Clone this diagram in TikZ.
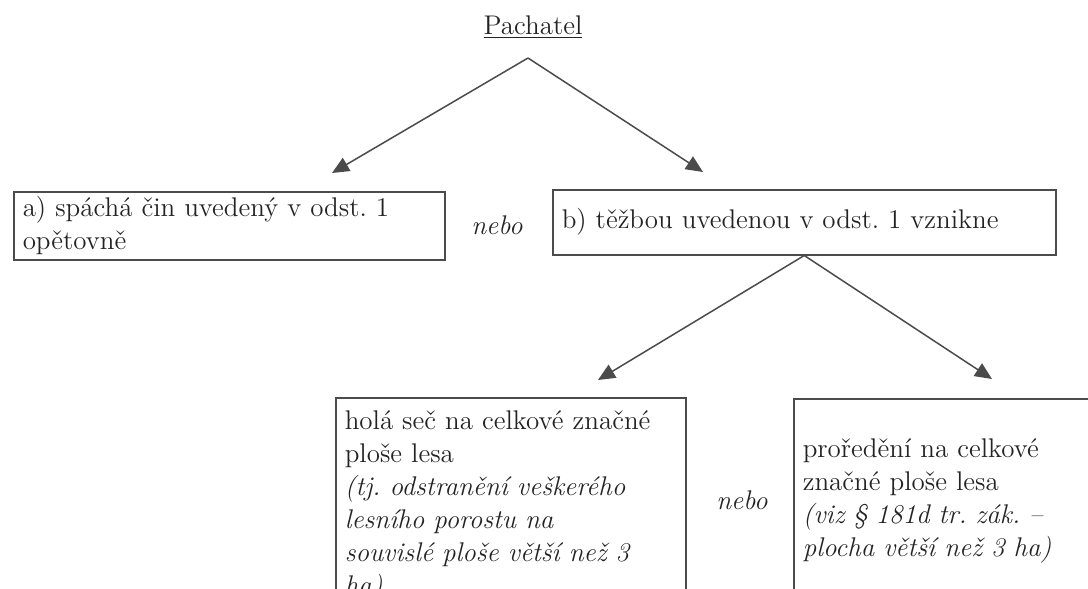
\documentclass[tikz,border=0pt]{standalone}
\usepackage{tikz}
\usetikzlibrary{arrows.meta, positioning, calc}
\definecolor{inkGray}{RGB}{35, 35, 35}
\definecolor{lineGray}{RGB}{75, 75, 75}
\frenchspacing

\begin{document}
\begin{tikzpicture}[x=0.5pt, y=-0.5pt,
      every node/.style={text=inkGray, font=\fontsize{13.5}{16.5}\selectfont},
      box/.style={rectangle, draw=lineGray, line width=0.75pt, anchor=north west, align=left, inner xsep=4.5pt, inner ysep=0pt},
      arrow/.style={draw=lineGray, line width=0.75pt, -{Triangle[length=8.5pt, width=7.5pt]}},
      spojka/.style={font=\fontsize{13.5}{16.5}\selectfont\itshape}]

      \useasboundingbox (0,0) rectangle (1088,589);
      \clip (0,0) rectangle (1088,589);

      \node (pachatel) at (533,27) {\underline{Pachatel}};
      \coordinate (vrchol) at (528,58);

      \node[box, text width=206.5pt, minimum height=34pt] (opet) at (13,191)
        {a) spáchá čin uvedený v odst. 1\\opětovně};
      \node[spojka] (nebo1) at (497,225) {nebo};
      \node[box, text width=242.5pt, minimum height=32.5pt] (tezba) at (552,189)
        {b) těžbou uvedenou v odst. 1 vznikne};

      \coordinate (hrotA) at (332,173);
      \coordinate (hrotB) at (703,172);
      \draw[arrow] (vrchol) -- (hrotA);
      \draw[arrow] (vrchol) -- (hrotB);

      \node[box, text width=166pt, minimum height=108pt] (holasec) at (335,397)
        {holá seč na celkové značné\\ploše lesa\\{\itshape (tj. odstranění veškerého\\lesního porostu na\\souvislé ploše větší než 3\\ha)}};
      \node[spojka] (nebo2) at (742,500) {nebo};
      \node[box, text width=180pt, minimum height=102pt] (proredeni) at (793,398)
        {proředění na celkové\\značné ploše lesa\\{\itshape (viz § 181d tr. zák.~\textendash\\plocha větší než 3 ha)}};

      \coordinate (hrotC) at (598,380);
      \coordinate (hrotD) at (992,379);
      \draw[arrow] (tezba.south) -- (hrotC);
      \draw[arrow] (tezba.south) -- (hrotD);
  \end{tikzpicture}
\end{document}
